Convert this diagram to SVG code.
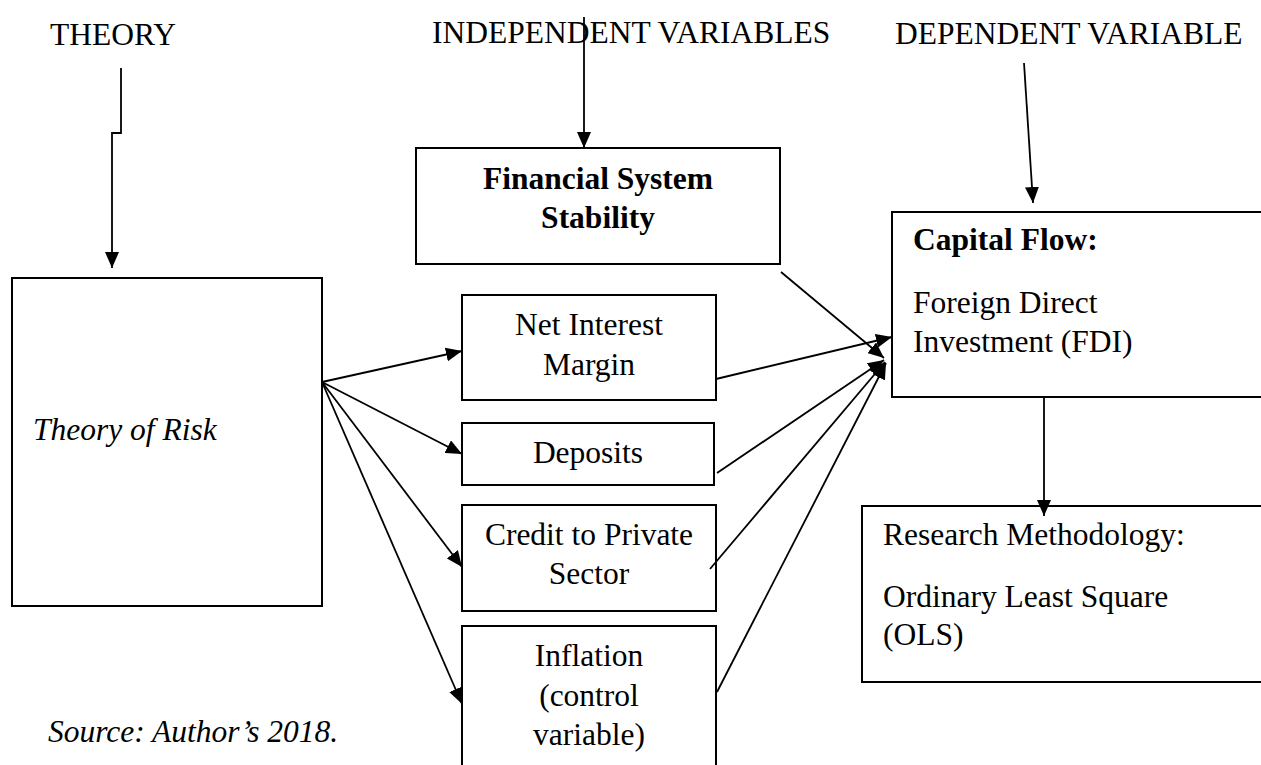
<svg xmlns="http://www.w3.org/2000/svg" width="1261" height="765" viewBox="0 0 1261 765">
  <style>
    text { font-family: "Liberation Serif", "Times New Roman", serif; font-size: 31.5px; fill: #000; }
    .b { font-weight: bold; }
    .i { font-style: italic; }
    .c { text-anchor: middle; }
    .box { fill: #fff; stroke: #000; stroke-width: 2; }
    .link { fill: none; stroke: #000; stroke-width: 1.8; marker-end: url(#arrow); }
  </style>
  <defs>
    <marker id="arrow" viewBox="0 0 16 14" markerWidth="16" markerHeight="14" refX="16" refY="7" orient="auto" markerUnits="userSpaceOnUse">
      <path d="M0,0 L16,7 L0,14 Z" fill="#000"/>
    </marker>
  </defs>

  <rect width="1261" height="765" fill="#fff"/>

  <!-- column headings -->
  <g id="headings">
    <text x="50" y="45">THEORY</text>
    <text x="432" y="43">INDEPENDENT VARIABLES</text>
    <text x="895" y="44">DEPENDENT VARIABLE</text>
  </g>

  <g id="theory-of-risk">
    <rect class="box" x="12" y="278" width="310" height="328"/>
    <text class="i" x="33" y="440">Theory of Risk</text>
  </g>

  <g id="financial-system-stability">
    <rect class="box" x="416" y="148" width="364" height="116"/>
    <text class="b c" x="598" y="189">Financial System</text>
    <text class="b c" x="598" y="228">Stability</text>
  </g>

  <g id="net-interest-margin">
    <rect class="box" x="462" y="295" width="254" height="105"/>
    <text class="c" x="589" y="335">Net Interest</text>
    <text class="c" x="589" y="375">Margin</text>
  </g>

  <g id="deposits">
    <rect class="box" x="462" y="423" width="252" height="62"/>
    <text class="c" x="588" y="463">Deposits</text>
  </g>

  <g id="credit-private-sector">
    <rect class="box" x="462" y="505" width="254" height="106"/>
    <text class="c" x="589" y="545">Credit to Private</text>
    <text class="c" x="589" y="584">Sector</text>
  </g>

  <g id="inflation">
    <rect class="box" x="462" y="626" width="254" height="160"/>
    <text class="c" x="589" y="666">Inflation</text>
    <text class="c" x="589" y="706">(control</text>
    <text class="c" x="589" y="745">variable)</text>
  </g>

  <g id="capital-flow">
    <rect class="box" x="892" y="212" width="400" height="185"/>
    <text class="b" x="913" y="250">Capital Flow:</text>
    <text x="913" y="313">Foreign Direct</text>
    <text x="913" y="352">Investment (FDI)</text>
  </g>

  <g id="research-methodology">
    <rect class="box" x="862" y="506" width="420" height="176"/>
    <text x="883" y="545">Research Methodology:</text>
    <text x="883" y="607">Ordinary Least Square</text>
    <text x="883" y="645">(OLS)</text>
  </g>

  <g id="source-note">
    <text class="i" x="48" y="742">Source: Author’s 2018.</text>
  </g>

  <!-- connectors -->
  <g id="connectors">
    <polyline class="link" points="121,68 121,133 112,133 112,268"/>
    <line class="link" x1="584" y1="17" x2="584" y2="148"/>
    <line class="link" x1="1024" y1="63" x2="1033" y2="203"/>
    <line class="link" x1="1044" y1="397" x2="1044" y2="516"/>

    <line class="link" x1="322" y1="382" x2="462" y2="351"/>
    <line class="link" x1="322" y1="382" x2="462" y2="454"/>
    <line class="link" x1="322" y1="382" x2="462" y2="567"/>
    <line class="link" x1="322" y1="382" x2="462" y2="704"/>

    <line class="link" x1="781" y1="272" x2="884" y2="358"/>
    <line class="link" x1="716" y1="379" x2="892" y2="337"/>
    <line class="link" x1="717" y1="473" x2="884" y2="360"/>
    <line class="link" x1="710" y1="569" x2="885" y2="362"/>
    <line class="link" x1="717" y1="692" x2="886" y2="363"/>
  </g>
</svg>
